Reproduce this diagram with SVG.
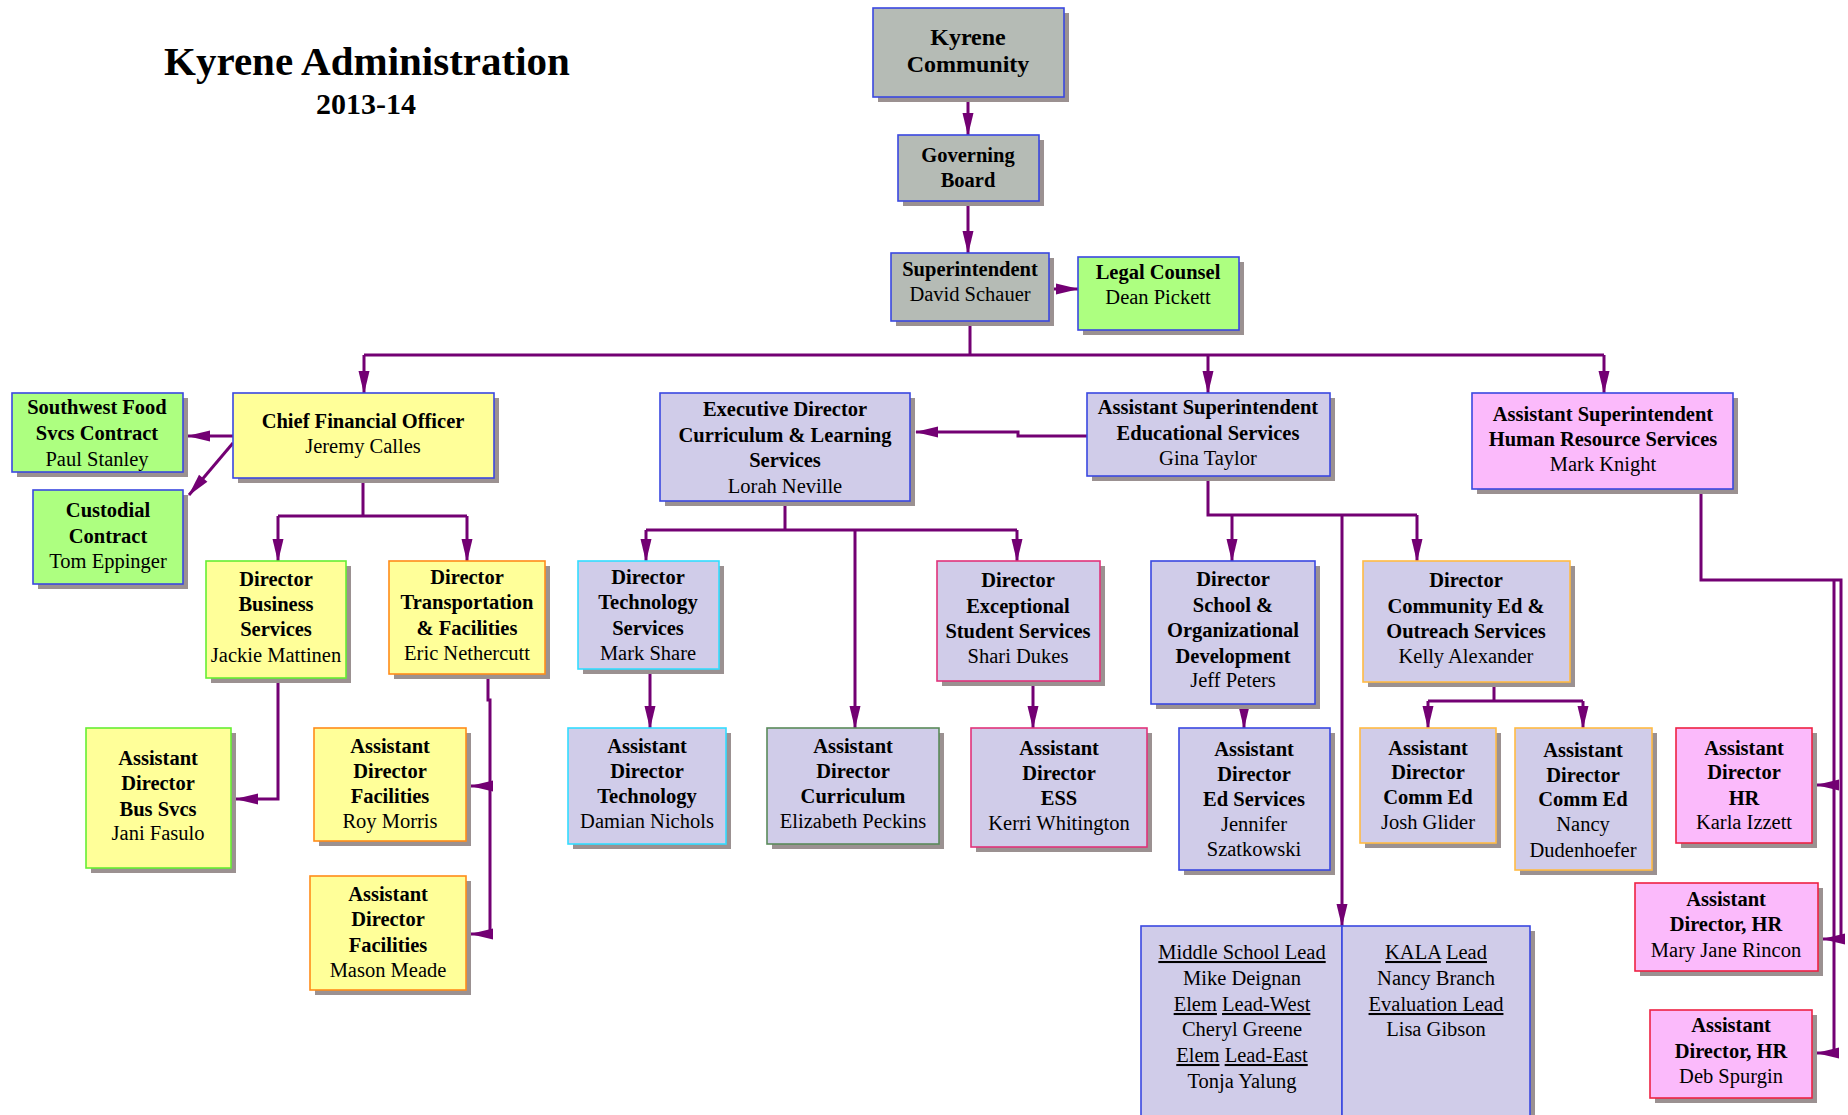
<svg xmlns="http://www.w3.org/2000/svg" width="1848" height="1115" viewBox="0 0 1848 1115">
<style>
.sh{fill:#9b9191}
.bx{stroke-width:1.6}
.grey{fill:#b5bbb5}.grn{fill:#adff80}.yel{fill:#ffff99}.lav{fill:#d0cce9}.pnk{fill:#fbbafb}
.sb{stroke:#3a48e0}.sg{stroke:#66ee33}.so{stroke:#ff8c1a}.sc{stroke:#33ddff}.sd{stroke:#5a8a5a}.sm{stroke:#e0337a}.sy{stroke:#ffbb44}.sr{stroke:#ee2244}
text{font-family:"Liberation Serif","Times New Roman",serif;font-size:20.5px;text-anchor:middle;fill:#000}
.b{font-weight:bold}
.u{text-decoration:underline}
.con{fill:none;stroke:#730073;stroke-width:3}
.ar{fill:none;stroke:#730073;stroke-width:3;marker-end:url(#ah)}
</style>
<defs>
<marker id="ah" markerUnits="userSpaceOnUse" markerWidth="23" markerHeight="12" refX="22" refY="6" orient="auto" overflow="visible">
<path d="M0,0.5 L23,6 L0,11.5 z" fill="#730073"/>
</marker>
</defs>
<rect width="1848" height="1115" fill="#fff"/>
<g id="title">
<text x="367" y="75" class="b" style="font-size:41px">Kyrene Administration</text>
<text x="366" y="114" class="b" style="font-size:30px">2013-14</text>
</g>
<g id="connectors">
<path class="ar" d="M968,97 V135"/>
<path class="ar" d="M968,201 V253"/>
<path class="ar" d="M1049,289 H1078"/>
<path class="con" d="M970,321 V355 M364,355 H1604"/>
<path class="ar" d="M364,355 V393"/>
<path class="ar" d="M1208,355 V393"/>
<path class="ar" d="M1604,355 V393"/>
<path class="ar" d="M233,436 H188"/>
<path class="ar" d="M233,443 L189,495"/>
<path class="con" d="M363,478 V516 M278,516 H467"/>
<path class="ar" d="M278,516 V561"/>
<path class="ar" d="M467,516 V561"/>
<path class="ar" d="M278,678 V799 H236"/>
<path class="ar" d="M488,674 V700 H490 V786 H471"/>
<path class="ar" d="M490,786 V934 H471"/>
<path class="ar" d="M1087,436 H1018 V432 H916"/>
<path class="con" d="M785,501 V530 M646,530 H1017"/>
<path class="ar" d="M646,530 V561"/>
<path class="ar" d="M1017,530 V561"/>
<path class="ar" d="M855,530 V728"/>
<path class="ar" d="M650,669 V728"/>
<path class="ar" d="M1033,681 V728"/>
<path class="con" d="M1208,476 V515 H1417"/>
<path class="ar" d="M1232,515 V561"/>
<path class="ar" d="M1417,515 V561"/>
<path class="ar" d="M1342,515 V926"/>
<path class="ar" d="M1244,704 V728"/>
<path class="con" d="M1494,682 V701 M1428,701 H1583"/>
<path class="ar" d="M1428,701 V728"/>
<path class="ar" d="M1583,701 V728"/>
<path class="ar" d="M1701,489 V580 H1841 V939 H1823"/>
<path class="ar" d="M1834,580 V1053 H1817"/>
<path class="ar" d="M1834,785 H1817"/>
</g>
<g id="kyrene">
<rect class="sh" x="878" y="13" width="191" height="89"/>
<rect class="bx grey sb" x="873" y="8" width="191" height="89"/>
<text class="b" style="font-size:24px"><tspan x="968" y="45">Kyrene</tspan><tspan x="968" y="72">Community</tspan></text>
</g>
<g id="board">
<rect class="sh" x="903" y="140" width="141" height="66"/>
<rect class="bx grey sb" x="898" y="135" width="141" height="66"/>
<text class="b"><tspan x="968" y="162">Governing</tspan><tspan x="968" y="187">Board</tspan></text>
</g>
<g id="superintendent">
<rect class="sh" x="896" y="258" width="158" height="68"/>
<rect class="bx grey sb" x="891" y="253" width="158" height="68"/>
<text><tspan class="b" x="970" y="276">Superintendent</tspan><tspan x="970" y="301">David Schauer</tspan></text>
</g>
<g id="legal">
<rect class="sh" x="1083" y="262" width="161" height="73"/>
<rect class="bx grn sb" x="1078" y="257" width="161" height="73"/>
<text><tspan class="b" x="1158" y="279">Legal Counsel</tspan><tspan x="1158" y="304">Dean Pickett</tspan></text>
</g>
<g id="swfood">
<rect class="sh" x="17" y="398" width="171" height="79"/>
<rect class="bx grn sb" x="12" y="393" width="171" height="79"/>
<text><tspan class="b" x="97" y="414">Southwest Food</tspan><tspan class="b" x="97" y="440">Svcs Contract</tspan><tspan x="97" y="466">Paul Stanley</tspan></text>
</g>
<g id="custodial">
<rect class="sh" x="38" y="495" width="150" height="94"/>
<rect class="bx grn sb" x="33" y="490" width="150" height="94"/>
<text><tspan class="b" x="108" y="517">Custodial</tspan><tspan class="b" x="108" y="543">Contract</tspan><tspan x="108" y="568">Tom Eppinger</tspan></text>
</g>
<g id="cfo">
<rect class="sh" x="238" y="398" width="261" height="85"/>
<rect class="bx yel sb" x="233" y="393" width="261" height="85"/>
<text><tspan class="b" x="363" y="428">Chief Financial Officer</tspan><tspan x="363" y="453">Jeremy Calles</tspan></text>
</g>
<g id="dirbus">
<rect class="sh" x="211" y="566" width="140" height="117"/>
<rect class="bx yel sg" x="206" y="561" width="140" height="117"/>
<text><tspan class="b" x="276" y="586">Director</tspan><tspan class="b" x="276" y="611">Business</tspan><tspan class="b" x="276" y="636">Services</tspan><tspan x="276" y="662">Jackie Mattinen</tspan></text>
</g>
<g id="dirtrans">
<rect class="sh" x="394" y="566" width="156" height="113"/>
<rect class="bx yel so" x="389" y="561" width="156" height="113"/>
<text><tspan class="b" x="467" y="584">Director</tspan><tspan class="b" x="467" y="609">Transportation</tspan><tspan class="b" x="467" y="635">&amp; Facilities</tspan><tspan x="467" y="660">Eric Nethercutt</tspan></text>
</g>
<g id="busvcs">
<rect class="sh" x="91" y="733" width="145" height="140"/>
<rect class="bx yel sg" x="86" y="728" width="145" height="140"/>
<text><tspan class="b" x="158" y="765">Assistant</tspan><tspan class="b" x="158" y="790">Director</tspan><tspan class="b" x="158" y="816">Bus Svcs</tspan><tspan x="158" y="840">Jani Fasulo</tspan></text>
</g>
<g id="roymorris">
<rect class="sh" x="319" y="733" width="152" height="113"/>
<rect class="bx yel so" x="314" y="728" width="152" height="113"/>
<text><tspan class="b" x="390" y="753">Assistant</tspan><tspan class="b" x="390" y="778">Director</tspan><tspan class="b" x="390" y="803">Facilities</tspan><tspan x="390" y="828">Roy Morris</tspan></text>
</g>
<g id="masonmeade">
<rect class="sh" x="315" y="881" width="156" height="114"/>
<rect class="bx yel so" x="310" y="876" width="156" height="114"/>
<text><tspan class="b" x="388" y="901">Assistant</tspan><tspan class="b" x="388" y="926">Director</tspan><tspan class="b" x="388" y="952">Facilities</tspan><tspan x="388" y="977">Mason Meade</tspan></text>
</g>
<g id="execdir">
<rect class="sh" x="665" y="398" width="250" height="108"/>
<rect class="bx lav sb" x="660" y="393" width="250" height="108"/>
<text><tspan class="b" x="785" y="416">Executive Director</tspan><tspan class="b" x="785" y="442">Curriculum &amp; Learning</tspan><tspan class="b" x="785" y="467">Services</tspan><tspan x="785" y="493">Lorah Neville</tspan></text>
</g>
<g id="dirtech">
<rect class="sh" x="583" y="566" width="141" height="108"/>
<rect class="bx lav sc" x="578" y="561" width="141" height="108"/>
<text><tspan class="b" x="648" y="584">Director</tspan><tspan class="b" x="648" y="609">Technology</tspan><tspan class="b" x="648" y="635">Services</tspan><tspan x="648" y="660">Mark Share</tspan></text>
</g>
<g id="diress">
<rect class="sh" x="942" y="566" width="163" height="120"/>
<rect class="bx lav sm" x="937" y="561" width="163" height="120"/>
<text><tspan class="b" x="1018" y="587">Director</tspan><tspan class="b" x="1018" y="613">Exceptional</tspan><tspan class="b" x="1018" y="638">Student Services</tspan><tspan x="1018" y="663">Shari Dukes</tspan></text>
</g>
<g id="asttech">
<rect class="sh" x="573" y="733" width="158" height="116"/>
<rect class="bx lav sc" x="568" y="728" width="158" height="116"/>
<text><tspan class="b" x="647" y="753">Assistant</tspan><tspan class="b" x="647" y="778">Director</tspan><tspan class="b" x="647" y="803">Technology</tspan><tspan x="647" y="828">Damian Nichols</tspan></text>
</g>
<g id="astcurr">
<rect class="sh" x="772" y="733" width="172" height="116"/>
<rect class="bx lav sd" x="767" y="728" width="172" height="116"/>
<text><tspan class="b" x="853" y="753">Assistant</tspan><tspan class="b" x="853" y="778">Director</tspan><tspan class="b" x="853" y="803">Curriculum</tspan><tspan x="853" y="828">Elizabeth Peckins</tspan></text>
</g>
<g id="astess">
<rect class="sh" x="976" y="733" width="176" height="119"/>
<rect class="bx lav sm" x="971" y="728" width="176" height="119"/>
<text><tspan class="b" x="1059" y="755">Assistant</tspan><tspan class="b" x="1059" y="780">Director</tspan><tspan class="b" x="1059" y="805">ESS</tspan><tspan x="1059" y="830">Kerri Whitington</tspan></text>
</g>
<g id="asstsuptedu">
<rect class="sh" x="1092" y="398" width="243" height="83"/>
<rect class="bx lav sb" x="1087" y="393" width="243" height="83"/>
<text><tspan class="b" x="1208" y="414">Assistant Superintendent</tspan><tspan class="b" x="1208" y="440">Educational Services</tspan><tspan x="1208" y="465">Gina Taylor</tspan></text>
</g>
<g id="dirschool">
<rect class="sh" x="1156" y="566" width="164" height="143"/>
<rect class="bx lav sb" x="1151" y="561" width="164" height="143"/>
<text><tspan class="b" x="1233" y="586">Director</tspan><tspan class="b" x="1233" y="612">School &amp;</tspan><tspan class="b" x="1233" y="637">Organizational</tspan><tspan class="b" x="1233" y="663">Development</tspan><tspan x="1233" y="687">Jeff Peters</tspan></text>
</g>
<g id="dircomm">
<rect class="sh" x="1368" y="566" width="207" height="121"/>
<rect class="bx lav sy" x="1363" y="561" width="207" height="121"/>
<text><tspan class="b" x="1466" y="587">Director</tspan><tspan class="b" x="1466" y="613">Community Ed &amp;</tspan><tspan class="b" x="1466" y="638">Outreach Services</tspan><tspan x="1466" y="663">Kelly Alexander</tspan></text>
</g>
<g id="asted">
<rect class="sh" x="1184" y="733" width="151" height="142"/>
<rect class="bx lav sb" x="1179" y="728" width="151" height="142"/>
<text><tspan class="b" x="1254" y="756">Assistant</tspan><tspan class="b" x="1254" y="781">Director</tspan><tspan class="b" x="1254" y="806">Ed Services</tspan><tspan x="1254" y="831">Jennifer</tspan><tspan x="1254" y="856">Szatkowski</tspan></text>
</g>
<g id="joshglider">
<rect class="sh" x="1365" y="733" width="136" height="115"/>
<rect class="bx lav sy" x="1360" y="728" width="136" height="115"/>
<text><tspan class="b" x="1428" y="755">Assistant</tspan><tspan class="b" x="1428" y="779">Director</tspan><tspan class="b" x="1428" y="804">Comm Ed</tspan><tspan x="1428" y="829">Josh Glider</tspan></text>
</g>
<g id="nancy">
<rect class="sh" x="1520" y="733" width="137" height="142"/>
<rect class="bx lav sy" x="1515" y="728" width="137" height="142"/>
<text><tspan class="b" x="1583" y="757">Assistant</tspan><tspan class="b" x="1583" y="782">Director</tspan><tspan class="b" x="1583" y="806">Comm Ed</tspan><tspan x="1583" y="831">Nancy</tspan><tspan x="1583" y="857">Dudenhoefer</tspan></text>
</g>
<g id="hrsupt">
<rect class="sh" x="1477" y="398" width="261" height="96"/>
<rect class="bx pnk sb" x="1472" y="393" width="261" height="96"/>
<text><tspan class="b" x="1603" y="421">Assistant Superintendent</tspan><tspan class="b" x="1603" y="446">Human Resource Services</tspan><tspan x="1603" y="471">Mark Knight</tspan></text>
</g>
<g id="karla">
<rect class="sh" x="1681" y="733" width="136" height="115"/>
<rect class="bx pnk sr" x="1676" y="728" width="136" height="115"/>
<text><tspan class="b" x="1744" y="755">Assistant</tspan><tspan class="b" x="1744" y="779">Director</tspan><tspan class="b" x="1744" y="805">HR</tspan><tspan x="1744" y="829">Karla Izzett</tspan></text>
</g>
<g id="maryjane">
<rect class="sh" x="1640" y="888" width="183" height="88"/>
<rect class="bx pnk sr" x="1635" y="883" width="183" height="88"/>
<text><tspan class="b" x="1726" y="906">Assistant</tspan><tspan class="b" x="1726" y="931">Director, HR</tspan><tspan x="1726" y="957">Mary Jane Rincon</tspan></text>
</g>
<g id="deb">
<rect class="sh" x="1655" y="1015" width="162" height="88"/>
<rect class="bx pnk sr" x="1650" y="1010" width="162" height="88"/>
<text><tspan class="b" x="1731" y="1032">Assistant</tspan><tspan class="b" x="1731" y="1058">Director, HR</tspan><tspan x="1731" y="1083">Deb Spurgin</tspan></text>
</g>
<g id="leads">
<rect class="sh" x="1146" y="931" width="389" height="200"/>
<rect class="bx lav sb" x="1141" y="926" width="201" height="195"/>
<rect class="bx lav sb" x="1342" y="926" width="188" height="195"/>
<text x="1242" y="959" class="u">Middle School Lead</text>
<text x="1242" y="985">Mike Deignan</text>
<text x="1242" y="1011"><tspan class="u">Elem</tspan> <tspan class="u">Lead-West</tspan></text>
<text x="1242" y="1036">Cheryl Greene</text>
<text x="1242" y="1062"><tspan class="u">Elem</tspan> <tspan class="u">Lead-East</tspan></text>
<text x="1242" y="1088">Tonja Yalung</text>
<text x="1436" y="959"><tspan class="u">KALA</tspan> <tspan class="u">Lead</tspan></text>
<text x="1436" y="985">Nancy Branch</text>
<text x="1436" y="1011" class="u">Evaluation Lead</text>
<text x="1436" y="1036">Lisa Gibson</text>
</g>
</svg>
